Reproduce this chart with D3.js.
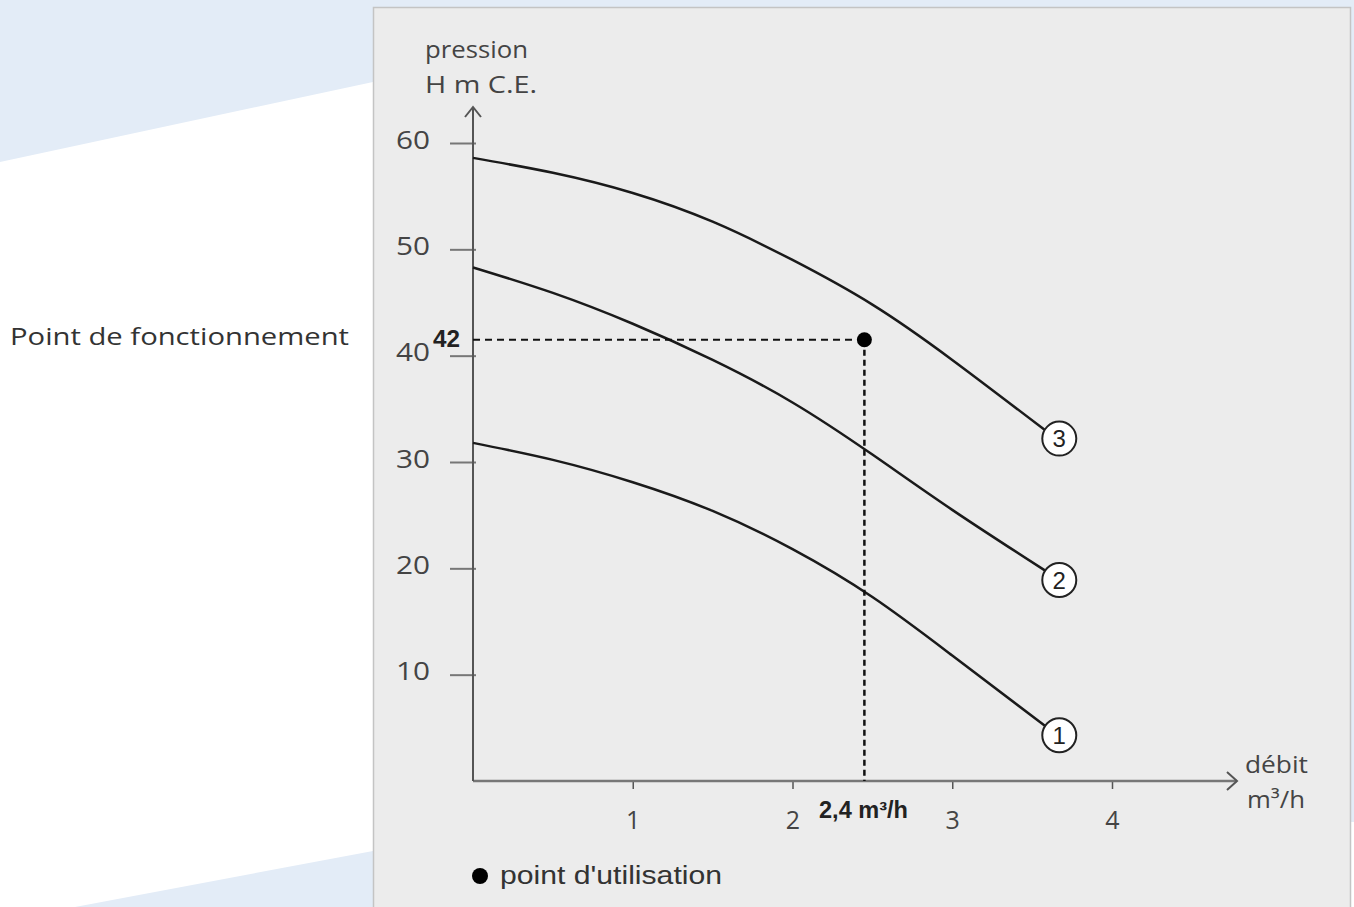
<!DOCTYPE html>
<html><head><meta charset="utf-8">
<script src="https://cdn.jsdelivr.net/npm/d3@7"></script>
<style>html,body{margin:0;padding:0;background:#fff;overflow:hidden}</style>
</head><body>
<svg id="c" width="1354" height="907"></svg>
<script>
// ---- data ----
const xTicks = [1, 2, 3, 4];
const yTicks = [10, 20, 30, 40, 50, 60];
const curveIds = ["1", "2", "3"];
const flowX = [0, 0.5, 1, 1.5, 2, 2.5, 3, 3.58];
const curve1 = [31.8, 30.2, 28.1, 25.4, 21.8, 17.3, 11.8, 5.2];
const curve2 = [48.3, 45.9, 43.0, 39.6, 35.6, 30.7, 25.5, 19.8];
const curve3 = [58.6, 57.2, 55.3, 52.6, 49.0, 44.8, 39.6, 33.0];
const labelX = [3.67, 3.67, 3.67];
const labelY = [4.3, 18.9, 32.2];
const opPoint = {x: 2.45, y: 41.5, xLabel: "2,4 m³/h", yLabel: "42"};

const svg = d3.select("#c");
const font = "'Open Sans', 'DejaVu Sans', sans-serif";
const narrow = "'Liberation Sans Narrow','Liberation Sans',sans-serif";

// background decorations
svg.append("rect").attr("x",0).attr("y",0).attr("width",1354).attr("height",8).attr("fill","#e3ecf7");
svg.append("polygon").attr("points","0,0 373,0 373,82 0,162").attr("fill","#e3ecf7");
svg.append("polygon").attr("points","75,907 373,851 373,907").attr("fill","#e3ecf7");
svg.append("rect").attr("x",1350).attr("y",0).attr("width",4).attr("height",822).attr("fill","#e3ecf7");
// panel
svg.append("rect").attr("x",373.5).attr("y",7.5).attr("width",977).attr("height",905)
  .attr("fill","#ececec").attr("stroke","#c4c4c4").attr("stroke-width",1.5);

svg.append("text").attr("x",10).attr("y",345).attr("font-family",font).attr("font-size",24)
  .attr("fill","#333").attr("textLength",339).attr("lengthAdjust","spacingAndGlyphs")
  .text("Point de fonctionnement");

const x = d3.scaleLinear().domain([0,4]).range([473,1112]);
const y = d3.scaleLinear().domain([0,60]).range([781,143]);

// y axis ticks
const ya = svg.append("g").attr("transform","translate(473,0)")
  .call(d3.axisLeft(y).tickValues(yTicks).tickSize(23).tickPadding(20).tickFormat(d3.format("d")));
ya.select(".domain").remove();
ya.selectAll("line").attr("stroke","#777").attr("stroke-width",2).attr("x2",-23).attr("x1",3);
ya.selectAll("text").attr("font-family",font).attr("font-size",25).attr("fill","#444").attr("dy","0.2em")
  .attr("textLength",34).attr("lengthAdjust","spacingAndGlyphs");

// x axis ticks
const xa = svg.append("g").attr("transform","translate(0,781)")
  .call(d3.axisBottom(x).tickValues(xTicks).tickSize(8).tickPadding(22).tickFormat(d3.format("d")));
xa.select(".domain").remove();
xa.selectAll("line").attr("stroke","#555").attr("stroke-width",1.5);
xa.selectAll("text").attr("font-family",font).attr("font-size",25).attr("fill","#444");

// axis lines + arrows
svg.append("line").attr("x1",473).attr("x2",1237).attr("y1",781).attr("y2",781).attr("stroke","#777").attr("stroke-width",2.5);
svg.append("path").attr("d","M1227,772 L1237,781 L1227,790").attr("fill","none").attr("stroke","#555").attr("stroke-width",2);
svg.append("line").attr("x1",473).attr("x2",473).attr("y1",107).attr("y2",781).attr("stroke","#555").attr("stroke-width",2);
svg.append("path").attr("d","M465,117 L473,107 L481,117").attr("fill","none").attr("stroke","#555").attr("stroke-width",2);

function label(tx,ty,len,str,size){
  svg.append("text").attr("x",tx).attr("y",ty).attr("font-family",font).attr("font-size",size).attr("fill","#444")
    .attr("textLength",len).attr("lengthAdjust","spacingAndGlyphs").text(str);
}
label(425,58,103,"pression",24);
label(425,93,112,"H m C.E.",24);
label(1245,773,63,"débit",23);
label(1247,808,58,"m³/h",23);

// curves
const line = d3.line().x((d,i)=>x(flowX[i])).y(d=>y(d)).curve(d3.curveNatural);
[curve1,curve2,curve3].forEach(c=>{
  svg.append("path").attr("d",line(c)).attr("fill","none").attr("stroke","#1a1a1a").attr("stroke-width",2.5);
});

// dashed guides
svg.append("line").attr("x1",x(0)).attr("x2",x(opPoint.x)).attr("y1",y(opPoint.y)).attr("y2",y(opPoint.y))
  .attr("stroke","#111").attr("stroke-width",2).attr("stroke-dasharray","7,5");
svg.append("line").attr("x1",x(opPoint.x)).attr("x2",x(opPoint.x)).attr("y1",y(opPoint.y)).attr("y2",y(0))
  .attr("stroke","#111").attr("stroke-width",2.5).attr("stroke-dasharray","6,4");
svg.append("circle").attr("cx",x(opPoint.x)).attr("cy",y(opPoint.y)).attr("r",7.5).attr("fill","#000");

svg.append("text").attr("x",433).attr("y",y(opPoint.y)+7).attr("font-family",narrow)
  .attr("font-weight","bold").attr("font-size",23).attr("fill","#222")
  .attr("textLength",27).attr("lengthAdjust","spacingAndGlyphs").text(opPoint.yLabel);
svg.append("text").attr("x",819).attr("y",818).attr("font-family",narrow)
  .attr("font-weight","bold").attr("font-size",23).attr("fill","#222")
  .attr("textLength",89).attr("lengthAdjust","spacingAndGlyphs").text(opPoint.xLabel);

// curve labels
curveIds.forEach((id,i)=>{
  const g = svg.append("g").attr("transform",`translate(${x(labelX[i])},${y(labelY[i])})`);
  g.append("circle").attr("r",17).attr("fill","#fff").attr("stroke","#222").attr("stroke-width",2);
  g.append("text").attr("text-anchor","middle").attr("dy","0.36em").attr("font-family",narrow)
    .attr("font-size",24).attr("fill","#222").text(id);
});

// legend
svg.append("circle").attr("cx",480).attr("cy",876).attr("r",8).attr("fill","#000");
svg.append("text").attr("x",500).attr("y",884).attr("font-family",narrow)
  .attr("font-size",25).attr("fill","#333").attr("textLength",222).attr("lengthAdjust","spacingAndGlyphs").text("point d'utilisation");
</script>
</body></html>
